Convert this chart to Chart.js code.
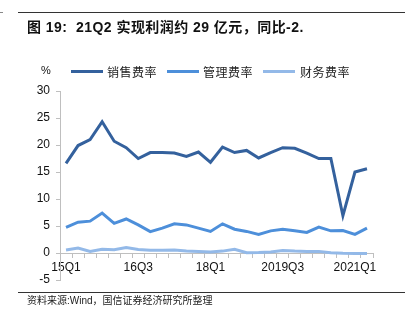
<!DOCTYPE html>
<html>
<head>
<meta charset="utf-8">
<script src="https://cdn.jsdelivr.net/npm/chart.js@4/dist/chart.umd.min.js"></script>
<style>
  html, body { margin: 0; padding: 0; background: #fff; }
  #wrap { position: relative; width: 413px; height: 323px; overflow: hidden; background: #fff; }
  canvas { position: absolute; left: 0; top: 0; }
  .rule { position: absolute; left: 18px; width: 387px; height: 1px; background: #333; }
  .txt { position: absolute; white-space: nowrap; color: #111; }
  #title { left: 27px; top: 16px; font: bold 14px "Liberation Sans", "Noto Sans CJK SC", sans-serif; letter-spacing: 0.45px; }
  #pct { left: 41px; top: 64px; font: 11px "Liberation Sans", sans-serif; }
  .lg { position: absolute; top: 70px; height: 3px; width: 32px; }
  .lgt { position: absolute; top: 63px; font: 12px "Noto Sans CJK SC", sans-serif; letter-spacing: 0.5px; color: #222; }
  #src { left: 27px; top: 292px; font: 10px "Liberation Sans", "Noto Sans CJK SC", sans-serif; color: #222; }
</style>
</head>
<body>
<div id="wrap">
  <canvas id="c" width="413" height="323"></canvas>
  <div class="rule" style="top:12px"></div>
  <div class="rule" style="top:12px;left:0;width:3px;background:#888"></div>
  <div class="rule" style="top:292px"></div>
  <div class="txt" id="title">图 19:&nbsp;&nbsp;21Q2 实现利润约 29 亿元，同比-2.</div>
  <div class="txt" id="pct">%</div>
  <div id="legend"></div>
  <div class="txt" id="src">资料来源:Wind，国信证券经济研究所整理</div>
</div>
<script>
const categories = [
  '15Q1','15Q2','15Q3','15Q4',
  '16Q1','16Q2','16Q3','16Q4',
  '17Q1','17Q2','17Q3','17Q4',
  '18Q1','18Q2','18Q3','18Q4',
  '2019Q1','2019Q2','2019Q3','2019Q4',
  '2020Q1','2020Q2','2020Q3','2020Q4',
  '2021Q1','2021Q2'
];
const shownTickEvery = 6;
const seriesNames = ['销售费率', '管理费率', '财务费率'];
const salesRate = [16.6, 19.9, 21.0, 24.3, 20.7, 19.5, 17.5, 18.6, 18.6, 18.5, 17.9, 18.7, 16.8, 19.6, 18.6, 19.0, 17.6, 18.6, 19.5, 19.4, 18.5, 17.5, 17.5, 6.9, 15.0, 15.6];
const adminRate = [4.75, 5.7, 5.9, 7.4, 5.5, 6.3, 5.2, 3.95, 4.6, 5.4, 5.2, 4.6, 4.0, 5.4, 4.4, 4.0, 3.45, 4.1, 4.4, 4.1, 3.8, 4.8, 4.1, 4.15, 3.45, 4.6];
const financeRate = [0.55, 0.9, 0.3, 0.7, 0.6, 1.0, 0.65, 0.5, 0.5, 0.55, 0.35, 0.3, 0.2, 0.35, 0.7, 0.05, 0.1, 0.2, 0.45, 0.35, 0.3, 0.3, 0.05, -0.05, -0.1, -0.1];
const colors = ['#34619D', '#4D8FDA', '#93B9E8'];

// HTML legend
const legendPos = [[71, 107], [167, 203], [263, 300]];
const lg = document.getElementById('legend');
seriesNames.forEach((n, i) => {
  const l = document.createElement('div');
  l.className = 'lg'; l.style.left = legendPos[i][0] + 'px'; l.style.background = colors[i];
  lg.appendChild(l);
  const t = document.createElement('div');
  t.className = 'lgt'; t.style.left = legendPos[i][1] + 'px'; t.textContent = n;
  lg.appendChild(t);
});

const axisColor = '#bfbfbf';
new Chart(document.getElementById('c'), {
  type: 'line',
  data: {
    labels: categories,
    datasets: [salesRate, adminRate, financeRate].map((d, i) => ({
      label: seriesNames[i], data: d, borderColor: colors[i], backgroundColor: colors[i],
      borderWidth: 3, pointRadius: 0, tension: 0, fill: false
    }))
  },
  options: {
    responsive: false, devicePixelRatio: 1, animation: false,
    layout: { padding: { left: 0, right: 40, top: 91, bottom: 43 } },
    plugins: { legend: { display: false }, tooltip: { enabled: false } },
    scales: {
      x: {
        type: 'category', offset: true, position: { y: 0 },
        grid: { drawOnChartArea: false, drawTicks: true, tickLength: 4, color: axisColor, offset: true },
        border: { display: true, color: axisColor, width: 1 },
        ticks: {
          autoSkip: false, maxRotation: 0, padding: 3, color: '#111',
          font: { family: 'Liberation Sans', size: 12 },
          callback: function(v, i) { return i % shownTickEvery === 0 ? categories[i] : ''; }
        }
      },
      y: {
        min: -5, max: 30,
        afterFit: s => { s.width = 60; },
        grid: { drawOnChartArea: false, drawTicks: true, tickLength: 4, color: axisColor },
        border: { display: true, color: axisColor, width: 1 },
        ticks: { stepSize: 5, padding: 6, color: '#111', font: { family: 'Liberation Sans', size: 12 } }
      }
    }
  }
});
</script>
</body>
</html>
